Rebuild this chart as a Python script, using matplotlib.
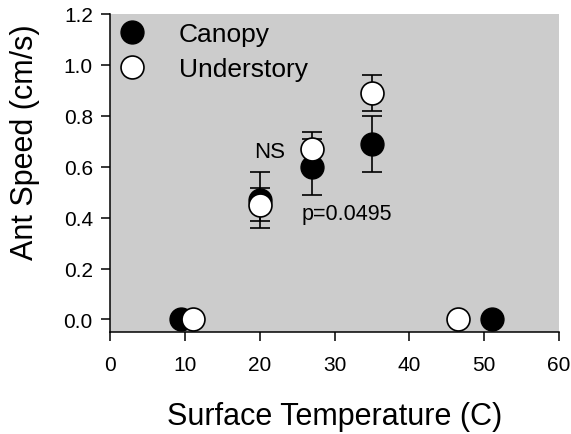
import numpy as np
import matplotlib.pyplot as plt

# canopy series
canopy_temp = [9.4, 20, 27, 35, 51]
canopy_speed = [0.0, 0.47, 0.60, 0.69, 0.0]
canopy_err = [0.0, 0.11, 0.11, 0.11, 0.0]

# understory series
under_temp = [11.1, 20, 27, 35, 46.5]
under_speed = [0.0, 0.45, 0.67, 0.89, 0.0]
under_err = [0.0, 0.065, 0.065, 0.07, 0.0]

xticks = [0, 10, 20, 30, 40, 50, 60]
yticks = [0.0, 0.2, 0.4, 0.6, 0.8, 1.0, 1.2]

plt.rcParams['font.family'] = ['Liberation Sans', 'DejaVu Sans']

fig = plt.figure(figsize=(5.71, 4.35), dpi=100)
ax = fig.add_axes([0.193, 0.234, 0.786, 0.732])
ax.set_facecolor('#cccccc')

ms = 16.5
ax.errorbar(canopy_temp, canopy_speed, yerr=canopy_err, fmt='o', color='black',
            mfc='black', mec='black', ms=ms, capsize=7.2, elinewidth=1.2,
            capthick=1.2, label='Canopy', zorder=3)
ax.errorbar(under_temp, under_speed, yerr=under_err, fmt='o', color='black',
            mfc='white', mec='black', ms=ms, capsize=7.2, elinewidth=1.2,
            capthick=1.2, mew=1.2, label='Understory', zorder=4)

ax.text(21.3, 0.658, 'NS', fontsize=16, ha='center', va='center')
ax.text(31.6, 0.416, 'p=0.0495', fontsize=15.5, ha='center', va='center')

ax.set_xlim(0, 60)
ax.set_ylim(-0.05, 1.2)
ax.set_xticks(xticks)
ax.set_yticks(yticks)
ax.set_yticklabels([f'{v:.1f}' for v in yticks])
ax.tick_params(direction='out', length=6.5, width=1.1, labelsize=15)
ax.tick_params(axis='x', pad=10)
ax.tick_params(axis='y', pad=6)
for s in ['top', 'right']:
    ax.spines[s].set_visible(False)
for s in ['left', 'bottom']:
    ax.spines[s].set_linewidth(1.1)

ax.set_xlabel('Surface Temperature (C)', fontsize=22)
ax.xaxis.label.set_va('baseline')
ax.xaxis.set_label_coords(0.499, -0.289)
ax.set_ylabel('Ant Speed (cm/s)', fontsize=22)
ax.yaxis.set_label_coords(-0.156, 0.60)

handles, labels = ax.get_legend_handles_labels()
handles = [h[0] for h in handles]
ax.legend(handles, labels, loc='upper left', bbox_to_anchor=(0.02, 0.974),
          frameon=False, fontsize=19, handlelength=1.0, handletextpad=1.27,
          borderpad=0, borderaxespad=0, labelspacing=0.43)

fig.savefig('out.png', dpi=100)
